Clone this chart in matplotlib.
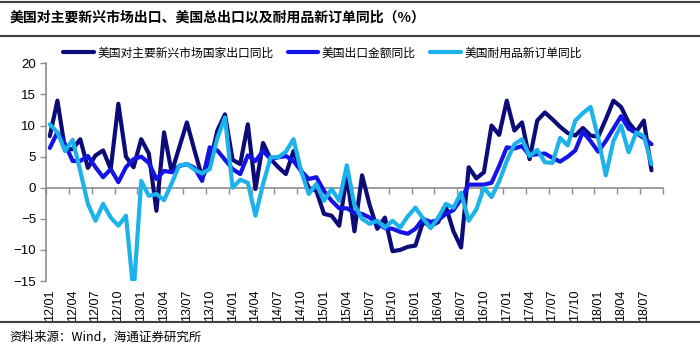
import numpy as np
import matplotlib
matplotlib.use('Agg')
import matplotlib.pyplot as plt
from matplotlib.lines import Line2D

plt.rcParams['font.family'] = ['Noto Sans CJK SC', 'DejaVu Sans']

# monthly categories on the axis: 12/01 .. 18/09 (data stops at 18/08)
months = [f'{y:02d}/{m:02d}' for y in range(12, 19) for m in range(1, 13)][:81]
tick_labels = months[::3]

name_em = '美国对主要新兴市场国家出口同比'
name_total = '美国出口金额同比'
name_dur = '美国耐用品新订单同比'

em_exports = [8.3, 14.0, 6.2, 6.2, 7.8, 3.2, 5.2, 6.0, 3.0, 13.5,
              5.0, 3.3, 7.8, 5.5, -3.7, 8.9, 2.5, 6.5, 10.5, 6.0,
              1.7, 3.8, 9.2, 11.8, 4.5, 3.8, 10.2, -0.2, 7.2, 4.6,
              3.3, 2.2, 5.9, 2.7, 0.0, -0.5, -4.2, -4.5, -6.1, 2.0,
              -7.0, 2.0, -2.8, -6.6, -4.8, -10.2, -10.0, -9.5, -9.3, -5.5,
              -6.2, -5.5, -3.0, -7.0, -9.6, 3.3, 1.5, 2.5, 10.0, 8.5,
              14.0, 9.2, 10.5, 4.6, 10.8, 12.1, 11.0, 9.8, 8.8, 8.4,
              9.6, 8.4, 8.2, 11.0, 14.0, 13.0, 10.5, 9.0, 10.8, 2.8]

total_exports = [6.4, 8.9, 7.0, 4.3, 4.3, 5.1, 3.3, 1.7, 3.0, 0.9,
                 3.3, 4.6, 5.0, 4.0, 1.4, 2.7, 2.5, 3.5, 3.8, 3.2,
                 1.1, 6.5, 6.0, 4.5, 3.0, 2.2, 5.2, 4.3, 5.9, 4.6,
                 4.9, 5.1, 4.3, 2.7, 1.4, 1.7, -0.5, -2.1, -3.3, -3.3,
                 -4.0, -4.2, -4.8, -5.7, -6.5, -6.6, -7.1, -7.4, -6.6, -5.0,
                 -5.5, -5.2, -4.2, -3.6, -1.8, 0.5, 0.5, 0.5, 0.8, 3.5,
                 6.5, 6.3, 6.7, 5.2, 5.4, 5.5, 4.8, 4.2, 5.0, 6.0,
                 9.0, 7.5, 5.8, 7.5, 9.5, 11.5, 9.5, 8.8, 8.0, 7.0]

durable_orders = [10.2, 8.9, 5.9, 7.7, 2.7, -2.6, -5.3, -2.6, -4.8, -6.1,
                  -4.5, -17.0, 1.1, -1.3, -1.0, -2.0, 0.7, 3.6, 3.8, 2.9,
                  2.3, 3.0, 8.0, 11.3, 0.0, 1.3, 0.8, -4.5, 0.6, 4.9,
                  4.9, 5.8, 7.8, 2.7, -1.0, 0.6, -2.1, -0.2, -2.1, 3.6,
                  -2.8, -5.0, -5.8, -5.3, -6.4, -5.3, -6.4, -4.6, -3.2, -4.9,
                  -6.5, -4.8, -2.6, -3.2, -0.8, -5.3, -3.5, 0.0, -1.5, 1.0,
                  4.3, 7.0, 7.8, 5.1, 6.1, 4.1, 4.0, 8.0, 6.8, 10.8,
                  12.0, 13.0, 8.0, 2.0, 7.5, 10.0, 5.7, 8.9, 8.3, 3.8]

c_em = '#0c0c78'
c_total = '#1414e6'
c_dur = '#1cb2ea'
grey = '#8c8c8c'

fig = plt.figure(figsize=(7, 3.5), dpi=100)
ax = fig.add_axes([0.0657, 0.197, 0.8813, 0.622])

x = np.arange(len(em_exports))
kw = dict(lw=3.0, solid_joinstyle='round', solid_capstyle='round')
l1, = ax.plot(x, em_exports, color=c_em, label=name_em, **kw)
l2, = ax.plot(x, total_exports, color=c_total, label=name_total, **kw)
l3, = ax.plot(x, durable_orders, color=c_dur, label=name_dur, **kw)

ymin, ymax = -15, 20
ax.set_ylim(ymin, ymax)
ax.set_xlim(-0.5, len(months) - 0.5)
ax.set_yticks(np.arange(ymin, ymax + 1, 5))
ax.tick_params(axis='y', direction='out', length=4, width=1, color=grey,
               labelsize=9.5, pad=3)
for t in ax.get_yticklabels():
    t.set_fontfamily('Liberation Sans')

# category labels at the bottom, tick marks sit on the zero line
ax.set_xticks(np.arange(0, len(months), 3))
ax.set_xticklabels(tick_labels, rotation=90, fontsize=9,
                   fontfamily='Liberation Sans')
ax.tick_params(axis='x', length=0, pad=6)

for s in ['top', 'right', 'bottom']:
    ax.spines[s].set_visible(False)
ax.spines['left'].set_color(grey)
ax.spines['left'].set_linewidth(1.2)

zero = ax.secondary_xaxis((0 - ymin) / (ymax - ymin))
zero.set_xticks(np.arange(-0.5, len(months), 3))
zero.set_xticklabels([])
zero.tick_params(direction='out', length=4, width=1, color=grey)
zero.spines['bottom'].set_color(grey)
zero.spines['bottom'].set_linewidth(1.2)

fig.legend(handles=[l1, l2, l3], loc='center left',
           bbox_to_anchor=(0.09, 1 - 53 / 350), ncol=3, frameon=False,
           fontsize=8.5, handlelength=2.6, handletextpad=0.3,
           columnspacing=1.2, borderpad=0, borderaxespad=0)

fig.text(0.014, 1 - 18 / 350, '美国对主要新兴市场出口、美国总出口以及耐用品新订单同比（%）',
         fontsize=10, fontweight='bold', va='center', ha='left')
fig.text(0.014, 1 - 337 / 350, '资料来源：Wind，海通证券研究所',
         fontsize=9, va='center', ha='left')

for yy, lw in [(1 - 1.5 / 350, 1.5), (1 - 36 / 350, 1.5), (1 - 322 / 350, 1.5)]:
    fig.add_artist(Line2D([0.0, 1.0], [yy, yy], transform=fig.transFigure,
                          color='#404040', lw=lw))

fig.savefig('out.png', dpi=100)
